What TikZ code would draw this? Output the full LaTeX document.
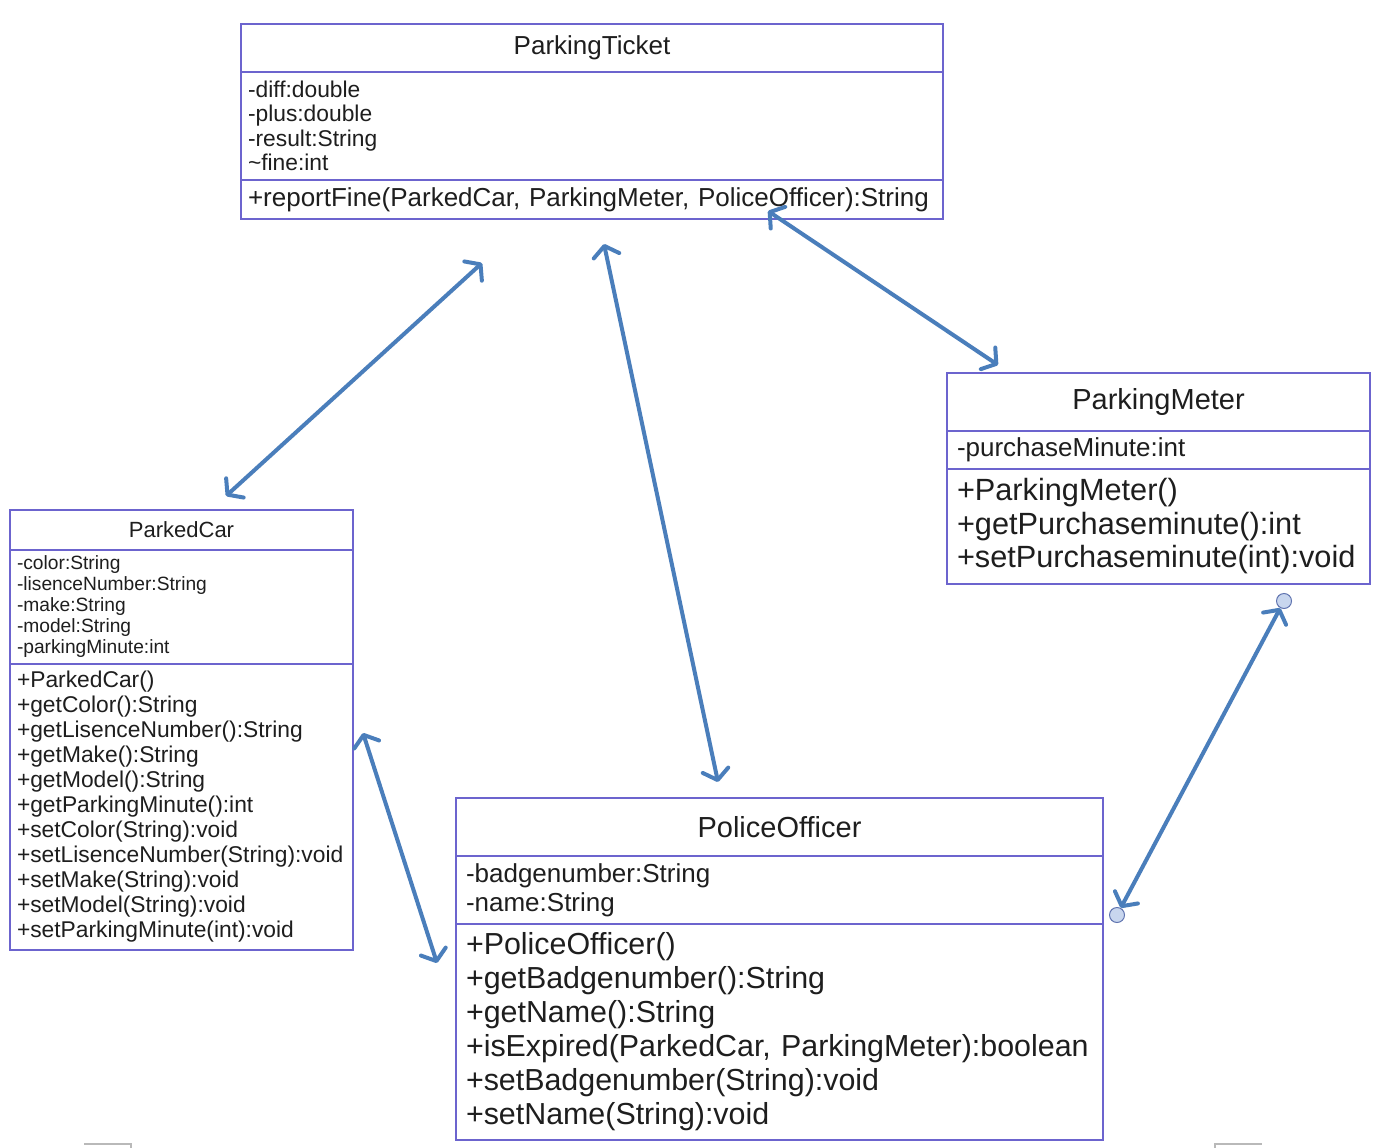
\documentclass[tikz,border=0pt]{standalone}
\usepackage{fontspec}
\setmainfont{Liberation Sans}
\usepackage{tikz}
\usetikzlibrary{
    positioning,
    arrows.meta
}
\definecolor{umlFrame}{RGB}{108, 100, 206}
\definecolor{umlText}{RGB}{30, 30, 30}
\definecolor{linkBlue}{RGB}{74, 126, 187}
\definecolor{endFill}{RGB}{200, 214, 238}
\definecolor{endDraw}{RGB}{96, 116, 176}
\definecolor{edgeGray}{RGB}{185, 185, 185}
\newcommand{\umlfont}[2]{\fontsize{#1}{#2}\selectfont}

\begin{document}
\begin{tikzpicture}[x=1pt, y=-1pt,
        >={Straight Barb[length=10pt, width=26pt, round]},
        box/.style={draw=umlFrame, line width=2.2pt, fill=white, outer sep=0pt, text=umlText, inner ysep=0pt},
        title/.style={box, anchor=north west, align=center, inner xsep=0pt},
        part/.style={box, below=0pt of #1, align=left},
        link/.style={<->, line width=4pt, linkBlue},
        endpt/.style={circle, draw=endDraw, fill=endFill, line width=1pt, minimum size=15pt, inner sep=0pt}]
    \useasboundingbox[fill=white] (0,0) rectangle (1392,1148);

    % ParkingTicket
    \node[title, minimum width=702pt, minimum height=48pt, font={\umlfont{26}{30}}] (pt-name) at (241,24) {ParkingTicket};
    \node[part=pt-name, text width=688pt, inner xsep=7pt, minimum height=108pt, font={\umlfont{22.8}{24.3}}] (pt-attr)
        {-diff:double\\-plus:double\\-result:String\\\textasciitilde fine:int};
    \node[part=pt-attr, text width=688pt, inner xsep=7pt, minimum height=39pt, font={\umlfont{26}{30}}] (pt-ops)
        {\mbox{+reportFine(ParkedCar, ParkingMeter, PoliceOfficer):String}};

    % ParkedCar
    \node[title, minimum width=343pt, minimum height=40pt, font={\umlfont{22}{25}}] (pc-name) at (10,510) {ParkedCar};
    \node[part=pc-name, text width=329pt, inner xsep=7pt, minimum height=114pt, font={\umlfont{19.2}{21}}] (pc-attr)
        {-color:String\\-lisenceNumber:String\\-make:String\\-model:String\\-parkingMinute:int};
    \node[part=pc-attr, text width=329pt, inner xsep=7pt, minimum height=286pt, font={\umlfont{22.8}{25}}] (pc-ops)
        {+ParkedCar()\\+getColor():String\\+getLisenceNumber():String\\+getMake():String\\+getModel():String\\
         +getParkingMinute():int\\+setColor(String):void\\+setLisenceNumber(String):void\\+setMake(String):void\\
         +setModel(String):void\\+setParkingMinute(int):void};

    % ParkingMeter
    \node[title, minimum width=423pt, minimum height=58pt, font={\umlfont{29}{33}}] (pm-name) at (947,373) {ParkingMeter};
    \node[part=pm-name, text width=403pt, inner xsep=10pt, minimum height=38pt, font={\umlfont{26}{29}}] (pm-attr)
        {-purchaseMinute:int};
    \node[part=pm-attr, text width=403pt, inner xsep=10pt, minimum height=115pt, font={\umlfont{30.7}{33.5}}] (pm-ops)
        {+ParkingMeter()\\+getPurchaseminute():int\\+setPurchaseminute(int):void};

    % PoliceOfficer
    \node[title, minimum width=647pt, minimum height=58pt, font={\umlfont{29}{33}}] (po-name) at (456,798) {PoliceOfficer};
    \node[part=po-name, text width=627pt, inner xsep=10pt, minimum height=68pt, font={\umlfont{26}{29}}] (po-attr)
        {-badgenumber:String\\-name:String};
    \node[part=po-attr, text width=627pt, inner xsep=10pt, minimum height=216pt, font={\umlfont{30.4}{34}}] (po-ops)
        {+PoliceOfficer()\\+getBadgenumber():String\\+getName():String\\\mbox{+isExpired(ParkedCar, ParkingMeter):boolean}\\
         +setBadgenumber(String):void\\+setName(String):void};

    % association ends
    \coordinate (pt-car) at (482,263);
    \coordinate (car-pt) at (226,496);
    \coordinate (pt-off) at (604,244);
    \coordinate (off-pt) at (718,782);
    \coordinate (pt-met) at (768,211);
    \coordinate (met-pt) at (998,365);
    \coordinate (car-off) at (363,733);
    \coordinate (off-car) at (437,963);
    \node[endpt] (met-off) at (1284,601) {};
    \node[endpt] (off-met) at (1117,915) {};

    \draw[link] (pt-car) -- (car-pt);
    \draw[link] (pt-off) -- (off-pt);
    \draw[link] (pt-met) -- (met-pt);
    \draw[link] (car-off) -- (off-car);
    \draw[link] (met-off) -- (off-met);

    % screen edge marks
    \draw[edgeGray, line width=1.5pt] (84,1144) -- (131,1144) -- (131,1148);
    \draw[edgeGray, line width=1.5pt] (1215,1148) -- (1215,1144) -- (1262,1144);
\end{tikzpicture}
\end{document}
